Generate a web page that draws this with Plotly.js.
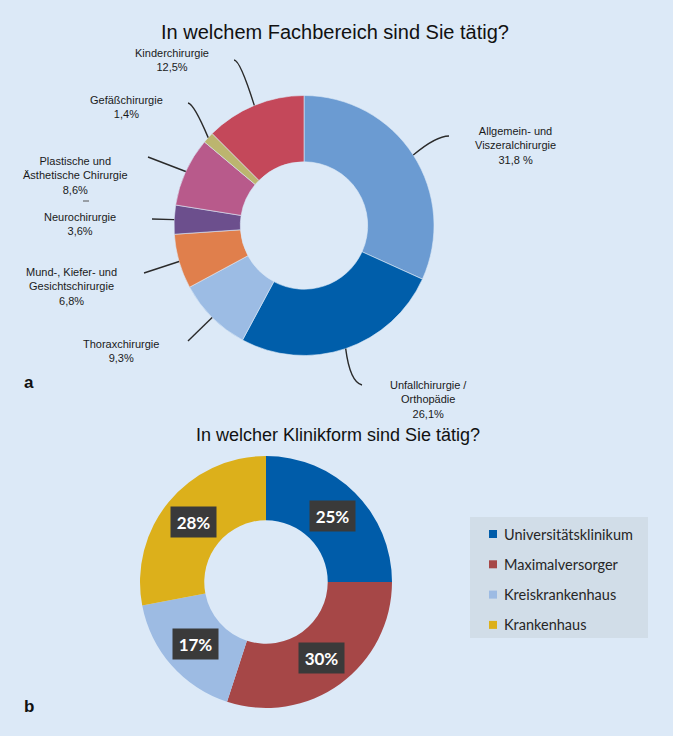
<!DOCTYPE html>
<html><head><meta charset="utf-8">
<script src="https://cdn.plot.ly/plotly-3.0.1.min.js"></script>
<style>html,body{margin:0;padding:0;background:#dce9f7;}#chart{width:673px;height:736px;}</style>
</head><body><div id="chart"></div>
<script>
// ---------- data ----------
const fachCategories = ["Allgemein- und Viszeralchirurgie","Unfallchirurgie / Orthopädie","Thoraxchirurgie","Mund-, Kiefer- und Gesichtschirurgie","Neurochirurgie","Plastische und Ästhetische Chirurgie","Gefäßchirurgie","Kinderchirurgie"];
const fachLabelLines = [["Allgemein- und","Viszeralchirurgie"],["Unfallchirurgie /","Orthopädie"],["Thoraxchirurgie"],["Mund-, Kiefer- und","Gesichtschirurgie"],["Neurochirurgie"],["Plastische und","Ästhetische Chirurgie"],["Gefäßchirurgie"],["Kinderchirurgie"]];
const fachValues = [31.8, 26.1, 9.3, 6.8, 3.6, 8.6, 1.4, 12.5];
const fachValueText = ["31,8 %","26,1%","9,3%","6,8%","3,6%","8,6%","1,4%","12,5%"];

const klinikCategories = ["Universitätsklinikum","Maximalversorger","Kreiskrankenhaus","Krankenhaus"];
const klinikValues = [25, 30, 17, 28];
const klinikValueText = ["25%","30%","17%","28%"];

// ---------- styles / layout config ----------
const fachColors = ["#6b9bd2","#005eaa","#9cbce4","#e07f4c","#6c4f8d","#b85a8b","#bcb56f","#c4485a"];
const klinikColors = ["#005ca9","#a64747","#9dbbe3","#dcb01b"];
const W = 673, H = 736;
const px = x => x / W, py = y => 1 - y / H;
const topPie = {cx: 304, cy: 225.5, r: 130, hole: 0.49};
const botPie = {cx: 266, cy: 582, r: 126, hole: 0.49};
const fachLabelPos = [[515,145],[428,399],[121,351],[71,286],[80,224],[75,175],[126,107],[172,60]];
const fachLineEnd = [[449,136],[362,385],[188,341],[144,273],[152,219],[148,157],[188,103],[234,60]];
// control points for slightly curved leader lines (null = straight)
const fachLineCtrl = [[436,136],[350,382],null,null,null,null,[194,104],[240,60]];
const legendBox = {x0: 470, x1: 648, y0: 517, y1: 638, rowY0: 534, rowStep: 30.3, sqX: 489, sq: 8, textX: 502};

function domainOf(p){
  return {x:[px(p.cx - p.r), px(p.cx + p.r)], y:[py(p.cy + p.r), py(p.cy - p.r)]};
}
function midPoints(values, p, rad){
  const tot = values.reduce((a,b)=>a+b,0);
  let cum = 0;
  return values.map(v => {
    const f = (cum + v/2) / tot; cum += v;
    const th = 2*Math.PI*f;
    return [p.cx + rad*Math.sin(th), p.cy - rad*Math.cos(th)];
  });
}

const traces = [
  {type:'pie', values: fachValues, labels: fachCategories, sort:false, direction:'clockwise', rotation:0,
   hole: topPie.hole, domain: domainOf(topPie), textinfo:'none', hoverinfo:'none',
   marker:{colors: fachColors, line:{color:'#dce9f7', width:0.6}}, showlegend:false},
  {type:'pie', values: klinikValues, labels: klinikCategories, sort:false, direction:'clockwise', rotation:0,
   hole: botPie.hole, domain: domainOf(botPie), textinfo:'none', hoverinfo:'none',
   marker:{colors: klinikColors, line:{width:0}}, showlegend:false}
];

const shapes = [], annotations = [];
const labelFont = {family:'Liberation Sans, Arial, sans-serif', size:11, color:'#1a1a1a'};

// top chart labels + leader lines
const anchors = midPoints(fachValues, topPie, topPie.r);
fachCategories.forEach((c,i) => {
  const a = anchors[i], e = fachLineEnd[i], k = fachLineCtrl[i];
  const line = {color:'#2a2a2a', width:1.4};
  if (k) {
    shapes.push({type:'path', xref:'paper', yref:'paper',
      path:`M ${px(a[0])},${py(a[1])} Q ${px(k[0])},${py(k[1])} ${px(e[0])},${py(e[1])}`, line});
  } else {
    shapes.push({type:'line', xref:'paper', yref:'paper', x0:px(a[0]), y0:py(a[1]), x1:px(e[0]), y1:py(e[1]), line});
  }
  annotations.push({xref:'paper', yref:'paper', x:px(fachLabelPos[i][0]), y:py(fachLabelPos[i][1]),
    xanchor:'center', yanchor:'middle', showarrow:false, align:'center',
    text: fachLabelLines[i].join('<br>') + '<br>' + fachValueText[i], font: labelFont});
});
shapes.push({type:'line', xref:'paper', yref:'paper', x0:px(83), x1:px(89), y0:py(201), y1:py(201), line:{color:'#555', width:1}});

// bottom chart data labels
const mids = midPoints(klinikValues, botPie, botPie.r*(1+botPie.hole)/2);
klinikValues.forEach((v,i) => {
  annotations.push({xref:'paper', yref:'paper', x:px(mids[i][0]), y:py(mids[i][1]), xanchor:'center', yanchor:'middle',
    showarrow:false, text: klinikValueText[i], bgcolor:'#3a3a3a', width:43, height:28,
    font:{family:'Lato, sans-serif', size:17, color:'#ffffff', weight:'bold'}});
});

// bottom legend (manual)
shapes.push({type:'rect', xref:'paper', yref:'paper', x0:px(legendBox.x0), x1:px(legendBox.x1), y0:py(legendBox.y1), y1:py(legendBox.y0),
  fillcolor:'#d1dde8', line:{width:0}, layer:'below'});
klinikCategories.forEach((c,i) => {
  const y = legendBox.rowY0 + i*legendBox.rowStep;
  shapes.push({type:'rect', xref:'paper', yref:'paper', x0:px(legendBox.sqX), x1:px(legendBox.sqX+legendBox.sq),
    y0:py(y+legendBox.sq/2), y1:py(y-legendBox.sq/2), fillcolor:klinikColors[i], line:{width:0}});
  annotations.push({xref:'paper', yref:'paper', x:px(legendBox.textX), y:py(y), xanchor:'left', yanchor:'middle',
    showarrow:false, text:c, font:{family:'Lato, sans-serif', size:14.5, color:'#262626'}});
});

// second title and panel letters
annotations.push({xref:'paper', yref:'paper', x:px(338), y:py(435), xanchor:'center', yanchor:'middle', showarrow:false,
  text:'In welcher Klinikform sind Sie tätig?', font:{family:'Liberation Sans, Arial, sans-serif', size:18, color:'#111'}});
annotations.push({xref:'paper', yref:'paper', x:px(22), y:py(382), xanchor:'left', yanchor:'middle', showarrow:false,
  text:'<b>a</b>', font:{family:'Liberation Sans, Arial, sans-serif', size:17, color:'#111'}});
annotations.push({xref:'paper', yref:'paper', x:px(22), y:py(706), xanchor:'left', yanchor:'middle', showarrow:false,
  text:'<b>b</b>', font:{family:'Liberation Sans, Arial, sans-serif', size:17, color:'#111'}});

const layout = {
  width: W, height: H, margin:{l:0,r:0,t:0,b:0},
  paper_bgcolor:'#dce9f7', plot_bgcolor:'#dce9f7',
  title:{text:'In welchem Fachbereich sind Sie tätig?', x:px(335), y:py(32), xref:'container', yref:'container',
    xanchor:'center', yanchor:'middle', font:{family:'Liberation Sans, Arial, sans-serif', size:20, color:'#111'}},
  showlegend:false, shapes, annotations
};
Plotly.newPlot('chart', traces, layout, {displayModeBar:false, staticPlot:true});
</script></body></html>
